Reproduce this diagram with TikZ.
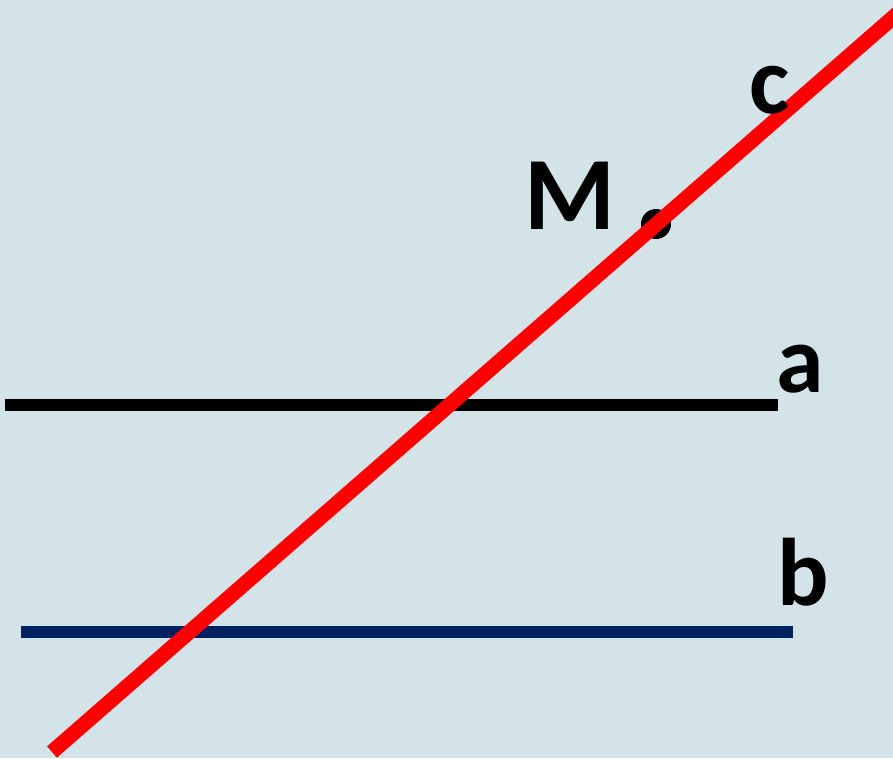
\documentclass[tikz,border=0pt]{standalone}
\usepackage{fontspec}
\setmainfont{Carlito}
\definecolor{bgcol}{RGB}{211,227,232}
\definecolor{navyline}{RGB}{0,32,96}
\definecolor{redline}{RGB}{255,0,0}
\begin{document}
\begin{tikzpicture}[x=1pt,y=-1pt,
  lbl/.style={inner sep=0pt,font=\fontsize{96}{96}\selectfont\bfseries},
  linea/.style={line width=12.5pt,black},
  lineb/.style={line width=11.5pt,navyline},
  linec/.style={line width=15pt,redline},
  ptdot/.style={fill=black}]
\fill[bgcol] (0,0) rectangle (893,758);
\useasboundingbox (0,0) rectangle (893,758);
\coordinate (a1) at (5,405);
\coordinate (a2) at (778,405);
\coordinate (b1) at (21,632);
\coordinate (b2) at (793,632);
\coordinate (c1) at (52,752);
\coordinate (c2) at (905,7);
\coordinate (M) at (656,224);
\draw[linea] (a1) -- (a2);
\draw[lineb] (b1) -- (b2);
\fill[ptdot] (M) circle (15pt);
\draw[linec] (c1) -- (c2);
\node[lbl,font=\fontsize{104}{104}\selectfont\bfseries] (Mlab) at (570,196) {M};
\node[lbl] (clab) at (770,90) {c};
\node[lbl] (alab) at (800,369) {a};
\node[lbl] (blab) at (803,572) {b};
\end{tikzpicture}
\end{document}
